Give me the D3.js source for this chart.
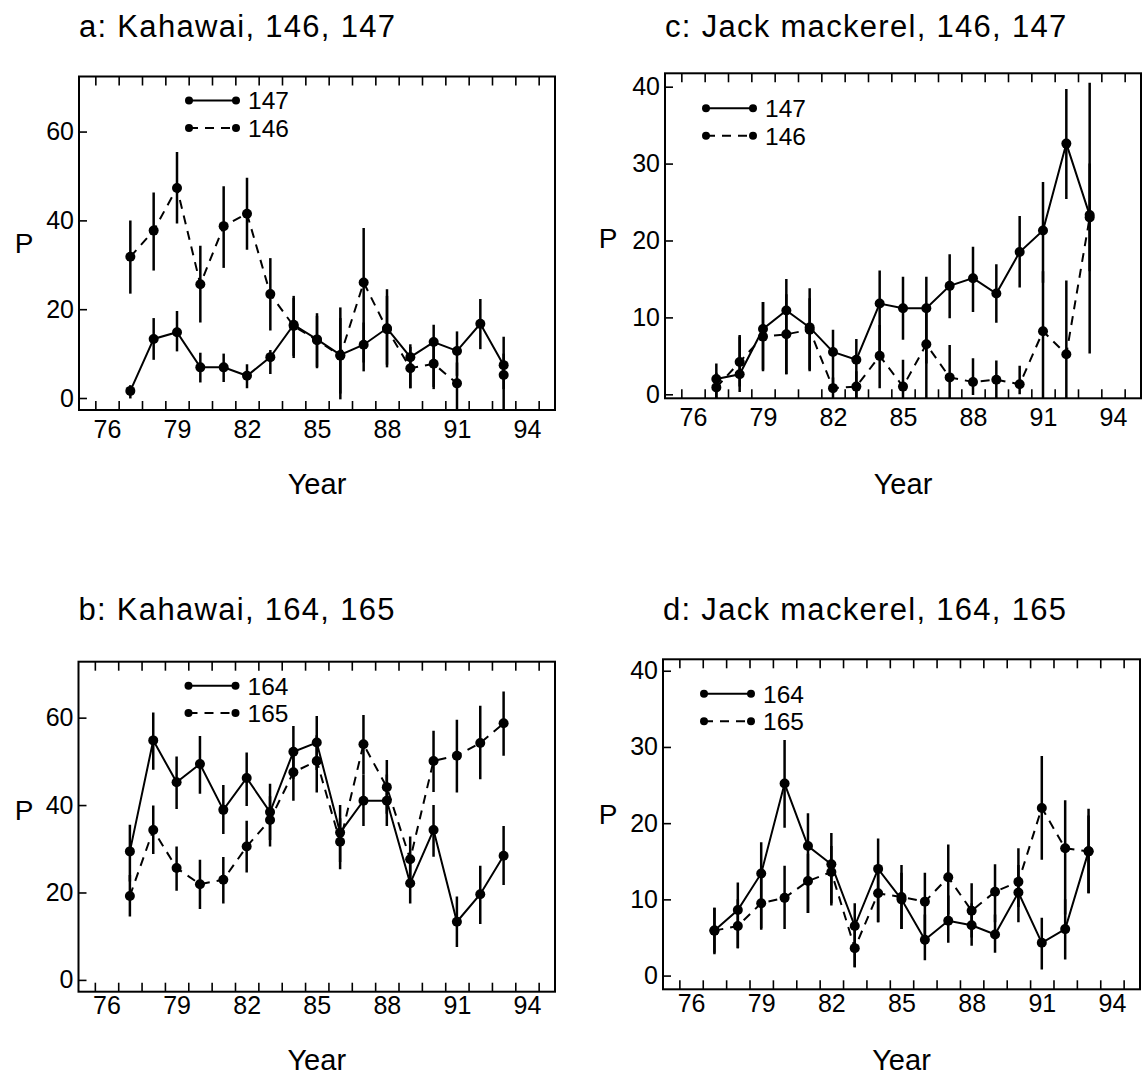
<!DOCTYPE html>
<html>
<head>
<meta charset="utf-8">
<script src="https://cdn.jsdelivr.net/npm/d3@7"></script>
<style>
  body { margin: 0; background: #fff; }
  svg { font-family: "Liberation Sans", Arial, Helvetica, sans-serif; }
</style>
</head>
<body>
<svg id="chart" width="1142" height="1079"></svg>
<script>
// survey years (19xx), one point per year
const years = [77, 78, 79, 80, 81, 82, 83, 84, 85, 86, 87, 88, 89, 90, 91, 92, 93];
const yearLabels = [76, 79, 82, 85, 88, 91, 94];
const tickBounds = [75.5, 76.5, 77.5, 78.5, 79.5, 80.5, 81.5, 82.5, 83.5, 84.5, 85.5, 86.5, 87.5, 88.5, 89.5, 90.5, 91.5, 92.5, 93.5, 94.5];

// a: Kahawai, areas 147 and 146
const kah147 = [1.6, 13.3, 14.8, 6.9, 6.9, 5.0, 9.2, 16.5, 13.2, 9.7, 12.0, 15.7, 9.2, 12.6, 10.6, 16.7, 7.4];
const kah147Lo = [-0.1, 8.6, 10.5, 3.5, 3.6, 2.2, 5.4, 9.0, 6.7, -0.3, 6.0, 6.9, 2.2, 2.0, 5.0, 11.0, 2.0];
const kah147Hi = [2.9, 18.0, 19.6, 10.2, 10.0, 7.6, 10.8, 23.0, 19.1, 20.4, 17.0, 24.5, 12.1, 16.5, 15.0, 22.3, 13.8];
const kah146 = [31.8, 37.7, 47.3, 25.6, 38.7, 41.5, 23.4, 16.2, 13.0, 9.5, 26.0, 15.5, 6.7, 7.7, 3.3, null, 5.2];
const kah146Lo = [23.5, 28.7, 39.3, 17.0, 29.3, 33.4, 15.2, 9.5, 7.0, 1.0, 8.0, 7.5, 2.2, 2.5, -3, null, -3];
const kah146Hi = [40.0, 46.3, 55.4, 34.3, 47.7, 49.6, 31.5, 22.5, 18.5, 18.0, 38.3, 23.0, 11.5, 13.0, 8.0, null, 10.0];

// b: Kahawai, areas 164 and 165
const kah164 = [29.4, 54.8, 45.2, 49.4, 38.9, 46.2, 38.4, 52.2, 54.3, 33.7, 41.0, 41.0, 22.1, 34.3, 13.3, 19.6, 28.4];
const kah164Lo = [22.5, 48.1, 39.1, 42.6, 33.4, 39.8, 32.0, 46.0, 48.0, 27.0, 35.2, 35.2, 17.5, 28.2, 7.5, 12.8, 21.7];
const kah164Hi = [35.5, 61.2, 51.1, 55.8, 44.6, 52.0, 44.9, 58.1, 60.4, 40.0, 47.0, 47.0, 27.0, 40.0, 19.1, 26.1, 35.2];
const kah165 = [19.2, 34.3, 25.6, 21.9, 22.9, 30.5, 36.6, 47.5, 50.1, 31.6, 53.9, 44.1, 27.6, 50.1, 51.3, 54.2, 58.7];
const kah165Lo = [14.5, 28.8, 20.4, 16.2, 17.5, 24.6, 30.5, 41.0, 42.9, 25.3, 47.0, 38.0, 22.0, 43.0, 42.9, 45.9, 51.3];
const kah165Hi = [24.0, 39.9, 30.5, 27.5, 28.1, 36.4, 42.0, 53.0, 56.0, 37.0, 60.6, 50.3, 32.8, 57.0, 59.5, 62.7, 66.0];

// c: Jack mackerel, areas 147 and 146
const jm147 = [2.0, 2.6, 8.5, 10.9, 8.7, 5.5, 4.5, 11.8, 11.2, 11.2, 14.1, 15.1, 13.1, 18.5, 21.3, 32.6, 23.3];
const jm147Lo = [-1, 0.3, 3.2, 2.6, 3.2, 0.6, -1, 5.0, 7.1, 4.0, 9.9, 10.7, 9.3, 13.9, 14.5, 25.4, 16.0];
const jm147Hi = [4.0, 7.7, 12.0, 15.0, 13.8, 8.4, 7.2, 16.1, 15.3, 15.3, 18.2, 19.2, 16.9, 23.2, 27.6, 39.7, 30.0];
const jm146 = [0.9, 4.2, 7.5, 7.8, 8.4, 0.8, 1.0, 5.0, 1.0, 6.5, 2.2, 1.6, 1.9, 1.3, 8.2, 5.2, 23.0];
const jm146Lo = [-1, 1.0, 3.0, 2.6, 3.0, -1, -1, 0.8, -1, -1, -1, -0.1, -1, 0.0, -1, -1, 5.3];
const jm146Hi = [2.8, 7.5, 12.0, 13.0, 12.5, 2.2, 3.0, 9.0, 4.5, 11.0, 6.4, 4.7, 4.4, 3.7, 16.0, 14.8, 40.5];

// d: Jack mackerel, areas 164 and 165
const jm164 = [5.9, 8.6, 13.4, 25.2, 17.0, 14.6, 6.5, 14.0, 10.0, 4.7, 7.2, 6.6, 5.4, 10.9, 4.3, 6.1, 16.3];
const jm164Lo = [2.8, 3.6, 6.2, 19.4, 8.2, 9.2, 1.1, 7.0, 6.1, 2.0, 4.3, 3.9, 3.0, 7.0, 0.8, 2.1, 10.8];
const jm164Hi = [8.9, 12.2, 17.5, 30.9, 21.3, 18.7, 9.5, 18.0, 14.5, 8.0, 10.5, 9.5, 8.0, 14.5, 7.6, 10.0, 21.9];
const jm165 = [5.9, 6.5, 9.5, 10.2, 12.4, 13.6, 3.6, 10.8, 10.3, 9.7, 12.9, 8.5, 11.0, 12.3, 22.0, 16.7, 16.3];
const jm165Lo = [3.0, 3.6, 6.0, 6.1, 8.2, 9.5, 1.1, 7.0, 6.1, 4.0, 8.0, 5.0, 7.0, 9.0, 15.2, 8.0, 10.8];
const jm165Hi = [8.9, 10.0, 14.0, 14.4, 16.0, 17.0, 6.0, 14.0, 13.5, 13.5, 17.2, 12.1, 14.6, 16.7, 28.8, 23.0, 21.0];

const DASH = "9,7";
const LEG_STEP = 27.4;

const panels = [
  { id: "a", title: "a: Kahawai, 146, 147", box: [79, 76.5, 555, 410], yDomain: [-2.7, 72.4], yTicks: [0, 20, 40, 60],
    legend: [110, 24], labelGap: 28, yearY: 494, pPos: [24, 243],
    series: [
      { name: "147", v: kah147, lo: kah147Lo, hi: kah147Hi, dash: null },
      { name: "146", v: kah146, lo: kah146Lo, hi: kah146Hi, dash: DASH }
    ] },
  { id: "b", title: "b: Kahawai, 164, 165", box: [78.5, 661.7, 555, 991.7], yDomain: [-2.7, 72.8], yTicks: [0, 20, 40, 60],
    legend: [110, 24], labelGap: 23, yearY: 1070, pPos: [24, 810],
    series: [
      { name: "164", v: kah164, lo: kah164Lo, hi: kah164Hi, dash: null },
      { name: "165", v: kah165, lo: kah165Lo, hi: kah165Hi, dash: DASH }
    ] },
  { id: "c", title: "c: Jack mackerel, 146, 147", box: [665, 73.3, 1141, 398.3], yDomain: [-0.52, 41.74], yTicks: [0, 10, 20, 30, 40],
    legend: [41, 35], labelGap: 28, yearY: 494, pPos: [608, 238],
    series: [
      { name: "147", v: jm147, lo: jm147Lo, hi: jm147Hi, dash: null },
      { name: "146", v: jm146, lo: jm146Lo, hi: jm146Hi, dash: DASH }
    ] },
  { id: "d", title: "d: Jack mackerel, 164, 165", box: [663, 659.3, 1140, 989.3], yDomain: [-1.8, 41.5], yTicks: [0, 10, 20, 30, 40],
    legend: [41, 34.5], labelGap: 23, yearY: 1070, pPos: [608, 814],
    series: [
      { name: "164", v: jm164, lo: jm164Lo, hi: jm164Hi, dash: null },
      { name: "165", v: jm165, lo: jm165Lo, hi: jm165Hi, dash: DASH }
    ] }
];

const svg = d3.select("#chart");

function drawPanel(p) {
  const [x0, y0, x1, y1] = p.box;
  const x = d3.scaleLinear().domain([74.8, 95.2]).range([x0, x1]);
  const y = d3.scaleLinear().domain(p.yDomain).range([y1, y0]);
  const g = svg.append("g");

  g.append("clipPath").attr("id", "clip-" + p.id)
    .append("rect").attr("x", x0).attr("y", y0).attr("width", x1 - x0).attr("height", y1 - y0);

  // title
  g.append("text").attr("x", x0).attr("y", y0 < 300 ? 37 : 620)
    .attr("font-size", 31).attr("letter-spacing", 1.3).text(p.title);

  // inward ticks on bottom and top
  g.append("g").attr("transform", `translate(0,${y1})`)
    .call(d3.axisBottom(x).tickValues(tickBounds).tickSize(-9).tickFormat(""))
    .call(s => s.select(".domain").remove());
  g.append("g").attr("transform", `translate(0,${y0})`)
    .call(d3.axisTop(x).tickValues(tickBounds).tickSize(-9).tickFormat(""))
    .call(s => s.select(".domain").remove());
  g.selectAll(".tick line").attr("stroke", "#000").attr("stroke-width", 1.6);

  // year labels
  const xl = g.append("g").attr("transform", `translate(0,${y1})`)
    .call(d3.axisBottom(x).tickValues(yearLabels).tickSize(0).tickPadding(p.labelGap - 18))
    .call(s => s.select(".domain").remove());
  xl.selectAll("text").attr("font-size", 25).attr("font-family", null).attr("fill", "#000");

  // y axis, inward ticks
  const ya = g.append("g").attr("transform", `translate(${x0},0)`)
    .call(d3.axisLeft(y).tickValues(p.yTicks).tickSize(-8).tickPadding(5))
    .call(s => s.select(".domain").remove());
  ya.selectAll("text").attr("font-size", 25).attr("font-family", null).attr("fill", "#000");
  ya.selectAll("line").attr("stroke", "#000").attr("stroke-width", 1.6);

  // frame
  g.append("rect").attr("x", x0).attr("y", y0).attr("width", x1 - x0).attr("height", y1 - y0)
    .attr("fill", "none").attr("stroke", "#000").attr("stroke-width", 2);

  // axis titles
  g.append("text").attr("x", (x0 + x1) / 2).attr("y", p.yearY).attr("text-anchor", "middle")
    .attr("font-size", 29).text("Year");
  g.append("text").attr("x", p.pPos[0]).attr("y", p.pPos[1]).attr("text-anchor", "middle")
    .attr("dominant-baseline", "central").attr("font-size", 28).text("P");

  // data
  const plot = g.append("g").attr("clip-path", `url(#clip-${p.id})`);
  p.series.forEach(s => {
    const pts = years.map((yr, i) => ({ yr, v: s.v[i], lo: s.lo[i], hi: s.hi[i] }));
    const line = d3.line().defined(d => d.v != null).x(d => x(d.yr)).y(d => y(d.v));
    plot.append("path").datum(pts).attr("d", line).attr("fill", "none")
      .attr("stroke", "#000").attr("stroke-width", 2).attr("stroke-dasharray", s.dash);
    const ok = pts.filter(d => d.v != null);
    plot.selectAll(null).data(ok).enter().append("line")
      .attr("x1", d => x(d.yr)).attr("x2", d => x(d.yr))
      .attr("y1", d => y(d.lo)).attr("y2", d => y(d.hi))
      .attr("stroke", "#000").attr("stroke-width", 2.5);
    plot.selectAll(null).data(ok).enter().append("circle")
      .attr("cx", d => x(d.yr)).attr("cy", d => y(d.v)).attr("r", 5).attr("fill", "#000");
  });

  // legend
  const lx = x0 + p.legend[0], ly = y0 + p.legend[1];
  p.series.forEach((s, i) => {
    const yy = ly + i * LEG_STEP;
    g.append("line").attr("x1", lx).attr("x2", lx + 47).attr("y1", yy).attr("y2", yy)
      .attr("stroke", "#000").attr("stroke-width", 2).attr("stroke-dasharray", s.dash);
    g.selectAll(null).data([lx, lx + 47]).enter().append("circle")
      .attr("cx", d => d).attr("cy", yy).attr("r", 4).attr("fill", "#000");
    g.append("text").attr("x", lx + 59).attr("y", yy + 8.8)
      .attr("font-size", 24.5).text(s.name);
  });
}

panels.forEach(drawPanel);
</script>
</body>
</html>
